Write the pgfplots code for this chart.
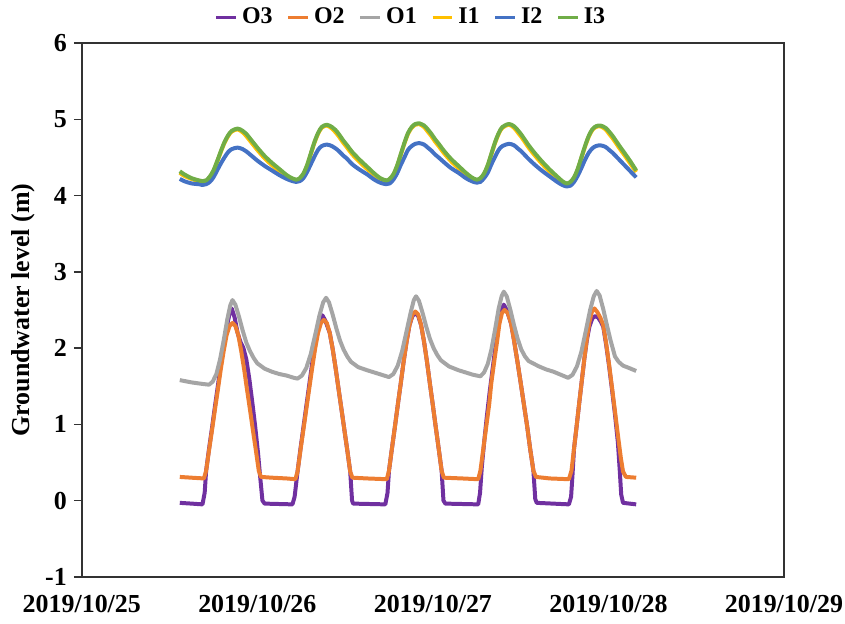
\documentclass[border=0pt]{standalone}
\usepackage{fontspec}
\setmainfont{Liberation Serif}
\usepackage{pgfplots}
\pgfplotsset{compat=1.18}
\definecolor{cO3}{RGB}{112,48,160}
\definecolor{cO2}{RGB}{237,125,49}
\definecolor{cO1}{RGB}{165,165,165}
\definecolor{cI1}{RGB}{255,192,0}
\definecolor{cI2}{RGB}{68,114,196}
\definecolor{cI3}{RGB}{112,173,71}

% x = hours since 2019/10/25 00:00
\pgfplotstableread{
h v
13.4 -0.03
15.0 -0.04
16.5 -0.05
16.8 0.10
17.0 0.39
17.4 0.68
17.8 0.95
18.2 1.23
18.6 1.50
19.0 1.78
19.4 2.03
19.8 2.27
20.2 2.45
20.5 2.52
20.9 2.40
21.3 2.20
21.7 2.08
22.1 2.00
22.5 1.85
22.9 1.60
23.3 1.30
23.7 0.98
24.1 0.62
24.4 0.30
24.7 0.00
25.0 -0.04
28.8 -0.05
29.1 0.05
29.5 0.38
29.9 0.68
30.3 0.96
30.7 1.24
31.1 1.52
31.5 1.80
31.9 2.05
32.3 2.26
32.6 2.38
32.9 2.43
33.3 2.36
33.9 2.20
34.3 1.99
34.7 1.74
35.1 1.47
35.5 1.20
35.9 0.93
36.3 0.66
36.7 0.38
36.95 0.00
37.1 -0.04
41.5 -0.05
41.8 0.10
42.0 0.39
42.4 0.68
42.8 0.96
43.2 1.25
43.6 1.53
44.0 1.82
44.4 2.08
44.8 2.30
45.2 2.42
45.6 2.46
46.0 2.42
46.4 2.30
46.8 2.08
47.2 1.82
47.6 1.53
48.0 1.25
48.4 0.96
48.8 0.68
49.2 0.39
49.45 0.00
49.7 -0.04
54.2 -0.05
54.45 0.10
54.7 0.45
55.05 0.80
55.4 1.12
55.8 1.45
56.2 1.75
56.6 2.05
57.0 2.32
57.35 2.50
57.7 2.57
58.1 2.50
58.7 2.32
59.1 2.10
59.55 1.83
60.0 1.55
60.45 1.26
60.9 0.97
61.3 0.68
61.75 0.39
62.0 0.02
62.2 -0.03
66.6 -0.05
66.9 0.05
67.1 0.35
67.3 0.68
67.65 0.97
68.0 1.27
68.35 1.56
68.7 1.85
69.05 2.10
69.4 2.28
69.8 2.39
70.2 2.42
70.6 2.40
71.0 2.34
71.3 2.28
71.7 2.04
72.1 1.76
72.5 1.45
72.9 1.13
73.3 0.76
73.55 0.40
73.75 0.08
74.0 -0.03
75.8 -0.05
}\dataOthree

\pgfplotstableread{
h v
13.4 0.31
15.0 0.30
16.7 0.29
17.0 0.39
17.4 0.66
17.8 0.92
18.2 1.19
18.6 1.45
19.0 1.72
19.4 1.96
19.8 2.17
20.2 2.29
20.6 2.33
21.0 2.29
21.4 2.17
21.8 1.96
22.2 1.72
22.6 1.45
23.0 1.19
23.4 0.92
23.8 0.66
24.2 0.39
24.5 0.31
26.0 0.30
28.0 0.29
29.2 0.28
29.5 0.38
29.9 0.66
30.3 0.93
30.7 1.20
31.1 1.47
31.5 1.74
31.9 1.99
32.3 2.20
32.7 2.33
33.1 2.37
33.5 2.33
33.9 2.20
34.3 1.99
34.7 1.74
35.1 1.47
35.5 1.20
35.9 0.93
36.3 0.66
36.7 0.38
37.0 0.30
39.0 0.29
41.7 0.28
42.0 0.39
42.4 0.68
42.8 0.96
43.2 1.25
43.6 1.53
44.0 1.82
44.4 2.08
44.8 2.30
45.2 2.44
45.6 2.48
46.0 2.44
46.4 2.30
46.8 2.08
47.2 1.82
47.6 1.53
48.0 1.25
48.4 0.96
48.8 0.68
49.2 0.39
49.5 0.30
52.0 0.29
54.2 0.28
54.5 0.39
54.9 0.68
55.3 0.97
55.7 1.26
56.0 1.55
56.4 1.83
56.8 2.10
57.1 2.32
57.45 2.46
57.8 2.50
58.25 2.46
58.7 2.32
59.1 2.10
59.55 1.83
60.0 1.55
60.45 1.26
60.9 0.97
61.3 0.68
61.75 0.39
62.1 0.31
64.0 0.29
66.6 0.28
66.95 0.39
67.3 0.68
67.65 0.97
68.0 1.27
68.35 1.56
68.7 1.85
69.05 2.12
69.4 2.34
69.75 2.48
70.1 2.52
70.5 2.47
70.9 2.40
71.3 2.30
71.7 2.06
72.1 1.78
72.5 1.48
72.9 1.17
73.3 0.86
73.7 0.56
74.0 0.38
74.4 0.31
75.8 0.30
}\dataOtwo

\pgfplotstableread{
h v
13.4 1.58
15.0 1.55
16.5 1.53
17.4 1.52
17.9 1.56
18.4 1.66
18.9 1.85
19.4 2.10
19.9 2.38
20.3 2.56
20.6 2.63
21.0 2.57
21.5 2.41
22.0 2.23
22.5 2.07
23.0 1.96
23.5 1.87
24.0 1.80
25.0 1.73
26.0 1.69
27.0 1.66
28.0 1.64
29.0 1.61
29.5 1.60
30.1 1.64
30.7 1.74
31.3 1.92
31.9 2.17
32.5 2.43
33.0 2.60
33.4 2.66
33.8 2.60
34.3 2.44
34.8 2.26
35.3 2.10
35.8 1.98
36.3 1.89
36.8 1.82
37.8 1.75
39.0 1.71
40.0 1.68
41.0 1.65
42.0 1.62
42.6 1.66
43.2 1.77
43.8 1.96
44.4 2.22
45.0 2.48
45.4 2.63
45.7 2.68
46.1 2.62
46.6 2.46
47.1 2.28
47.6 2.12
48.1 2.00
48.6 1.91
49.1 1.84
50.2 1.76
51.5 1.71
52.5 1.68
53.5 1.65
54.5 1.63
55.0 1.68
55.5 1.79
56.0 1.98
56.5 2.24
57.0 2.52
57.4 2.68
57.7 2.74
58.1 2.68
58.6 2.50
59.1 2.30
59.6 2.12
60.1 1.98
60.6 1.89
61.1 1.83
62.5 1.76
63.5 1.72
64.5 1.69
65.5 1.65
66.5 1.61
67.1 1.65
67.7 1.76
68.3 1.95
68.9 2.22
69.5 2.50
70.0 2.68
70.4 2.75
70.8 2.69
71.3 2.51
71.8 2.30
72.3 2.10
72.9 1.89
73.4 1.82
74.0 1.77
74.8 1.74
75.8 1.70
}\dataOone

\pgfplotstableread{
h a b c
13.4 4.30 4.22 4.32
14.0 4.26 4.19 4.28
15.0 4.22 4.16 4.23
16.0 4.19 4.15 4.20
16.5 4.18 4.14 4.19
17.0 4.19 4.15 4.20
17.5 4.24 4.18 4.25
18.0 4.32 4.24 4.33
18.5 4.44 4.33 4.45
19.0 4.57 4.42 4.58
19.5 4.69 4.50 4.70
20.0 4.78 4.57 4.79
20.5 4.84 4.61 4.85
21.3 4.87 4.63 4.88
22.0 4.83 4.61 4.85
22.5 4.78 4.58 4.81
23.0 4.72 4.54 4.75
23.5 4.66 4.50 4.69
24.0 4.60 4.46 4.63
25.0 4.49 4.39 4.52
26.0 4.40 4.33 4.43
27.0 4.32 4.27 4.35
28.0 4.25 4.22 4.27
28.5 4.22 4.20 4.24
29.3 4.20 4.18 4.21
29.8 4.22 4.19 4.23
30.3 4.28 4.23 4.29
30.8 4.39 4.31 4.40
31.3 4.54 4.41 4.55
31.8 4.69 4.51 4.70
32.3 4.81 4.60 4.82
32.8 4.89 4.65 4.90
33.5 4.92 4.67 4.93
34.2 4.88 4.65 4.90
34.7 4.83 4.62 4.86
35.2 4.77 4.58 4.80
35.7 4.70 4.53 4.73
36.2 4.64 4.49 4.67
37.0 4.54 4.41 4.57
38.0 4.44 4.34 4.47
39.0 4.35 4.28 4.38
40.0 4.27 4.21 4.29
40.8 4.22 4.17 4.23
41.6 4.19 4.15 4.20
42.1 4.21 4.16 4.22
42.6 4.27 4.21 4.28
43.1 4.38 4.29 4.39
43.6 4.53 4.40 4.54
44.1 4.68 4.50 4.69
44.6 4.81 4.60 4.82
45.1 4.89 4.65 4.90
45.6 4.93 4.68 4.94
46.1 4.94 4.69 4.95
46.8 4.90 4.67 4.92
47.3 4.84 4.63 4.87
47.8 4.78 4.59 4.81
48.3 4.71 4.54 4.74
48.8 4.65 4.50 4.68
49.5 4.56 4.44 4.59
50.5 4.45 4.36 4.48
51.5 4.36 4.30 4.39
52.5 4.28 4.23 4.30
53.3 4.23 4.19 4.24
54.0 4.20 4.17 4.21
54.5 4.22 4.18 4.23
55.0 4.28 4.23 4.29
55.5 4.39 4.30 4.40
56.0 4.54 4.41 4.55
56.5 4.69 4.51 4.70
57.0 4.81 4.60 4.82
57.5 4.89 4.65 4.90
58.4 4.93 4.68 4.94
59.1 4.89 4.66 4.91
59.6 4.83 4.62 4.86
60.1 4.77 4.58 4.80
60.6 4.70 4.53 4.73
61.1 4.63 4.48 4.66
62.0 4.52 4.40 4.55
63.0 4.41 4.32 4.44
64.0 4.31 4.25 4.34
65.0 4.23 4.18 4.25
65.7 4.18 4.14 4.19
66.3 4.15 4.12 4.16
66.8 4.17 4.13 4.18
67.3 4.23 4.18 4.24
67.8 4.34 4.26 4.35
68.3 4.49 4.36 4.50
68.8 4.64 4.47 4.65
69.3 4.77 4.56 4.78
69.8 4.86 4.62 4.87
70.3 4.90 4.65 4.91
70.9 4.91 4.66 4.92
71.6 4.87 4.64 4.89
72.1 4.81 4.60 4.84
72.6 4.75 4.56 4.78
73.1 4.68 4.51 4.71
73.6 4.61 4.46 4.64
74.2 4.53 4.40 4.56
75.0 4.42 4.32 4.45
75.8 4.31 4.24 4.33
}\dataI

\begin{document}
\begin{tikzpicture}
\begin{axis}[
  scale only axis, width=352pt, height=267.5pt,
  xmin=0, xmax=96, ymin=-1, ymax=6,
  xtick={0,24,48,72,96},
  xticklabels={2019/10/25,2019/10/26,2019/10/27,2019/10/28,2019/10/29},
  ytick={-1,0,1,2,3,4,5,6},
  yticklabels={-1,0,1,2,3,4,5,6},
  tick label style={font=\bfseries\fontsize{13}{15}\selectfont},
  xticklabel style={yshift=-1.5pt, inner xsep=1pt},
  x tick style={draw=none},
  y tick style={black!80, line width=0.8pt},
  tick align=outside, major tick length=4pt, ytick pos=left,
  axis line style={black!80, line width=0.8pt},
  ylabel={Groundwater level (m)},
  ylabel style={font=\bfseries\fontsize{13}{15}\selectfont, yshift=-2pt},
  legend columns=6,
  legend style={at={(0.47,1)}, anchor=south, yshift=4pt, draw=none,
    font=\bfseries\fontsize{12}{14}\selectfont,
    /tikz/every even column/.append style={column sep=5pt}},
  legend image code/.code={\draw[#1, line width=1.8pt] (0,0) -- (10pt,0);},
  every axis plot/.append style={line width=2pt, line join=round},
]
\addplot[cO3] table[x=h, y=v] {\dataOthree};
\addplot[cO2] table[x=h, y=v] {\dataOtwo};
\addplot[cO1] table[x=h, y=v] {\dataOone};
\addplot[cI1, smooth] table[x=h, y=a] {\dataI};
\addplot[cI2, smooth] table[x=h, y=b] {\dataI};
\addplot[cI3, smooth] table[x=h, y=c] {\dataI};
\legend{O3, O2, O1, I1, I2, I3}
\end{axis}
\path ([xshift=-41pt]current axis.south west) ([yshift=-23.5pt]current axis.south west);
\end{tikzpicture}
\end{document}
